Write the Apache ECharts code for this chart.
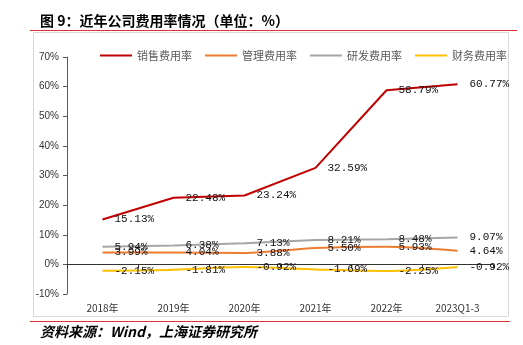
<!DOCTYPE html>
<html><head><meta charset="utf-8">
<script src="https://cdn.jsdelivr.net/npm/echarts@6/dist/echarts.min.js"></script>
<style>html,body{margin:0;padding:0;background:#fff}#c{width:523px;height:345px}</style>
</head><body><div id="c"></div>
<script>
const categories = ['2018年','2019年','2020年','2021年','2022年','2023Q1-3'];
const sales = [15.13, 22.48, 23.24, 32.59, 58.79, 60.77];
const mgmt = [3.99, 4.04, 3.88, 5.50, 5.93, 4.64];
const rnd = [5.94, 6.38, 7.13, 8.21, 8.48, 9.07];
const fin = [-2.15, -1.81, -0.92, -1.69, -2.25, -0.92];
const seriesNames = ['销售费用率','管理费用率','研发费用率','财务费用率'];
const colors = ['#C00000','#ED7D31','#A5A5A5','#FFC000'];
const yTicks = {min:-10, max:70, interval:10};

const chart = echarts.init(document.getElementById('c'));
const labelFont = {show:true, position:'right', distance:12, color:'#111', fontSize:11, fontFamily:'Liberation Mono, monospace', formatter: p => p.value.toFixed(2) + '%'};
function mk(name, data, color, smooth){
  return {name, type:'line', data, xAxisIndex:0, yAxisIndex:0, symbol:'circle', symbolSize:0, showSymbol:true, smooth: smooth,
    lineStyle:{color, width:2}, itemStyle:{color}, label:labelFont, z:3};
}
chart.setOption({
  animation:false,
  textStyle:{fontFamily:'Liberation Sans, sans-serif'},
  graphic:[
    {type:'text', left:40, top:14, style:{text:'图 9：近年公司费用率情况（单位：%）', font:'bold 14px "Noto Sans CJK SC"', fill:'#000'}},
    {type:'rect', shape:{x:30, y:30, width:487, height:1}, style:{fill:'#E03030'}},
    {type:'rect', shape:{x:33.5, y:32.5, width:475, height:284}, style:{fill:'none', stroke:'#D9D9D9', lineWidth:1}},
    {type:'rect', shape:{x:30, y:321, width:480, height:1}, style:{fill:'#E03030'}},
    {type:'text', left:40, top:325, style:{text:'资料来源：Wind，上海证券研究所', font:'italic bold 14px "Noto Sans CJK SC"', fill:'#000'}}
  ],
  legend:{top:45, left:95, itemWidth:32, itemHeight:2, itemGap:13, icon:'rect',
    textStyle:{color:'#595959', fontSize:11, fontFamily:'Noto Sans CJK SC'}, data:seriesNames},
  grid:{left:67, right:30, top:57, bottom:51, containLabel:false},
  xAxis:[
    {type:'category', data:categories, boundaryGap:true,
      axisLine:{onZero:true, lineStyle:{color:'#333', width:1}},
      axisTick:{show:true, length:4, lineStyle:{color:'#333'}},
      axisLabel:{show:false}, splitLine:{show:false}},
    {type:'category', data:categories, boundaryGap:true, position:'bottom',
      axisLine:{show:false, onZero:false}, axisTick:{show:false},
      axisLabel:{show:true, color:'#333', fontSize:10, margin:9, interval:0, fontFamily:'Noto Sans CJK SC'}, splitLine:{show:false}}
  ],
  yAxis:{type:'value', min:yTicks.min, max:yTicks.max, interval:yTicks.interval,
    axisLine:{show:true, lineStyle:{color:'#595959'}},
    axisTick:{show:true, length:4, inside:false, lineStyle:{color:'#595959'}},
    axisLabel:{color:'#333', fontSize:10, formatter:'{value}%', margin:8},
    splitLine:{show:false}},
  series:[
    mk(seriesNames[0], sales, colors[0], false),
    mk(seriesNames[1], mgmt, colors[1], 0.3),
    mk(seriesNames[2], rnd, colors[2], false),
    mk(seriesNames[3], fin, colors[3], 0.3)
  ]
});
</script></body></html>
